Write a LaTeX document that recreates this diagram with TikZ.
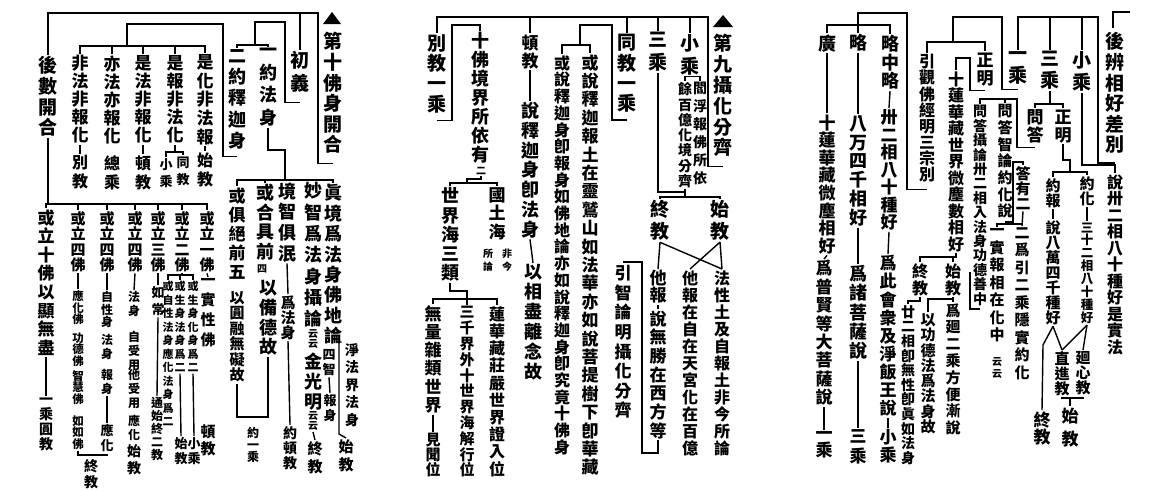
\documentclass[tikz,border=0pt]{standalone}
\usepackage{fontspec}
\setmainfont{Noto Sans CJK TC}
\XeTeXlinebreaklocale "zh"
\XeTeXlinebreakskip=0pt plus 1pt
\begin{document}
\begin{tikzpicture}[x=1pt,y=-1pt,line width=1.4pt,
  col/.style 2 args={anchor=north,inner sep=0pt,outer sep=1.5pt,text width=#1pt+2pt,align=center,font=\bfseries\fontsize{#1}{#2}\selectfont}]
\useasboundingbox (0,0) rectangle (1174,490);
\fill (323,24) -- (332,12) -- (341,24) -- cycle;
\node[col={19}{20.6}] (t10) at (333,31) {第十佛身開合};
\node[col={19}{20.7}] (hs) at (48,55) {後數開合};
\node[col={19}{23}] (cy) at (300,50) {初義};
\node[col={18}{21.2}] (er) at (237,48) {二約釋迦身};
\node[col={18}{22.5}] (yi) at (268,47) {一約法身};
\coordinate (top10) at (318,13);
\draw (hs.north) |- (top10) |- ([yshift=-8pt]t10.south);
\draw (cy.north) -- (cy.north |- top10);
\draw ([yshift=-8pt]cy.south) -| (285,22) -| (255,45) coordinate (b10a);
\draw (er.north) |- (b10a) -| (yi.north);
\node[col={17}{18}] (fa1) at (80,54) {非法非報化};
\node[col={17}{18}] (fa2) at (112,54) {亦法亦報化};
\node[col={17}{18}] (fa3) at (143,54) {是法非報化};
\node[col={17}{18}] (fa4) at (175,54) {是報非法化};
\node[col={17}{18.7}] (fa5) at (205,53) {是化非法報};
\draw ([yshift=-6pt]er.south) -| (223,24) -| (127,46) coordinate (b10b);
\draw (fa1.north) |- (b10b) -| (fa5.north);
\foreach \n in {fa2,fa3,fa4} \draw (\n.north) -- (\n.north |- b10b);
\node[col={16}{19}] (fb1) at (80,154) {別教};
\node[col={16}{19}] (fb2) at (112,154) {總乘};
\node[col={16}{19}] (fb3) at (143,154) {頓教};
\node[col={13}{17}] (fb4a) at (166,157) {小乘};
\node[col={13}{17}] (fb4b) at (183,155) {同教};
\node[col={16}{19}] (fb5) at (205,151) {始教};
\draw (fa1.south) -- (fb1.north);
\draw (fa3.south) -- (fb3.north);
\draw (fa5.south) -- (fb5.north);
\draw (fa4.south) -- (175,152) coordinate (b10e);
\draw (fb4a.north) |- (b10e) -| (fb4b.north);
\draw (yi.south) |- (285,150) -- (285,180) coordinate (b10c);
\node[col={18}{20.4}] (g1) at (333,183) {眞境爲法身佛地論};
\node[col={14}{17.5}] (g1a) at (352,342) {淨法界法身};
\node[col={13}{15}] (g1b) at (329,348) {四智};
\node[col={13}{15}] (g1c) at (330,393) {報身};
\node[col={15}{18}] (g1d) at (346,438) {始教};
\draw (g1b.south) -- (g1c.north);
\draw ([xshift=-1pt]g1a.north west) -| (339,434) -- (g1d.north);
\node[col={18}{21.3}] (g2) at (313,181) {妙智爲法身攝論};
\node[col={10}{10}] (g2b) at (313,328) {云云};
\node[col={18}{20}] (g2c) at (313,351) {金光明};
\node[col={10}{10}] (g2d) at (313,410) {云云};
\node[col={15}{18}] (g2e) at (315,440) {終教};
\draw (g2d.south) -- (g2e.north);
\node[col={18}{20.7}] (g3) at (287,181) {境智俱泯};
\node[col={15}{15}] (g3b) at (288,294) {爲法身};
\node[col={14}{15}] (g3c) at (290,425) {約頓教};
\draw (g3.south) -- (g3b.north);
\draw (g3b.south) -- (g3c.north);
\node[col={18}{19.5}] (g4) at (265,183) {或合具前};
\node[col={10}{10}] (g4b) at (262,263) {四};
\node[col={18}{19.7}] (g4c) at (268,279) {以備德故};
\node[col={17}{19}] (g5) at (237,186) {或俱絕前五};
\node[col={15}{15.5}] (g5b) at (237,290) {以圓融無礙故};
\draw (g5b.south) |- (255,417) coordinate (b10f) -| (g4c.south);
\node[col={12}{12}] (g45) at (253,426) {約一乘};
\draw (g1.north) |- (b10c) -| (g5.north);
\foreach \n in {g2,g3,g4} \draw (\n.north) -- (\n.north |- b10c);
\node[col={17}{18.6}] (h1) at (46,208) {或立十佛以顯無盡};
\node[col={14}{15}] (h1b) at (46,396) {一乘圓教};
\draw (h1.south) -- (h1b.north);
\node[col={15}{15.3}] (h2) at (78,210) {或立四佛};
\node[col={11.5}{11.5}] (h2b) at (78,289) {應化佛};
\node[col={11.5}{11.5}] (h2c) at (78,331) {功德佛};
\node[col={11.5}{11.5}] (h2d) at (78,369) {智慧佛};
\node[col={11.5}{11.5}] (h2e) at (78,414) {如如佛};
\draw (h2.south) -- (h2b.north);
\node[col={15}{15.3}] (h3) at (107,210) {或立四佛};
\node[col={12}{12.5}] (h3b) at (107,290) {自性身};
\node[col={12}{14}] (h3c) at (107,333) {法身};
\node[col={12}{14}] (h3d) at (107,368) {報身};
\node[col={13}{15}] (h3e) at (107,423) {應化};
\draw (h3.south) -- (h3b.north);
\draw (h3d.south) -- (h3e.north);
\node[col={14}{16}] (h23) at (91,458) {終教};
\draw (h2e.south) |- ([yshift=3pt]h23.north) -| (h3e.south);
\node[col={15}{15.3}] (h4) at (135,210) {或立四佛};
\node[col={12}{14}] (h4b) at (134,290) {法身};
\node[col={12}{14}] (h4c) at (134,330) {自受用};
\node[col={12}{14}] (h4d) at (134,368) {他受用};
\node[col={12}{14}] (h4e) at (134,414) {應化};
\node[col={14}{17}] (h4f) at (134,443) {始教};
\draw (h4.south) -- (h4b.north);
\node[col={15}{15.3}] (h5) at (158,210) {或立三佛};
\node[col={13}{17}] (h5b) at (158,285) {如常};
\node[col={12}{13}] (h5c) at (157,396) {通始終二教};
\draw (h5.south) -- (h5b.north);
\draw (h5b.south) -- (h5c.north);
\node[col={15}{15.3}] (h6) at (182,210) {或立二佛};
\node[col={11}{13.5}] (h6a) at (168,280) {或自性法身應化法身爲二};
\node[col={11}{13.5}] (h6b) at (180,280) {或生身法身爲二};
\node[col={11}{13.5}] (h6c) at (193,280) {或生身化身爲二};
\node[col={13}{15}] (h6d) at (181,436) {始教};
\node[col={13}{15}] (h6e) at (194,436) {小乘};
\draw (h6b.south) -- (h6d.north);
\draw (h6c.south) -- (h6e.north);
\draw (h6.south) -- (182,275) coordinate (b10g);
\draw (h6a.north) |- (b10g) -| (h6c.north);
\draw (h6b.north) -- (h6b.north |- b10g);
\node[col={15}{15.3}] (h7) at (207,210) {或立一佛};
\node[col={15}{20}] (h7b) at (208,277) {一實性佛};
\node[col={15}{17}] (h7c) at (208,423) {頓教};
\draw (h7.south) -- (h7b.north);
\draw (hs.south) |- (137,204) coordinate (b10d);
\draw (h1.north) |- (b10d) -| (h7.north);
\foreach \n in {h2,h3,h4,h5,h6} \draw (\n.north) -- (\n.north |- b10d);
\fill (713,27) -- (723,15) -- (733,27) -- cycle;
\node[col={19}{20.8}] (t9) at (723,33) {第九攝化分齊};
\node[col={19}{20.3}] (bj) at (437,33) {別教一乘};
\node[col={17}{18}] (dj) at (530,33) {頓教};
\node[col={19}{20.3}] (tj) at (627,33) {同教一乘};
\node[col={19}{23}] (sc) at (658,31) {三乘};
\node[col={19}{23}] (xc) at (690,33) {小乘};
\coordinate (top9) at (708,17);
\draw (bj.north) |- (top9) |- ([yshift=-8pt]t9.south);
\foreach \n in {dj,tj,sc,xc} \draw (\n.north) -- (\n.north |- top9);
\node[col={18}{19}] (sf) at (480,31) {十佛境界所依有};
\node[col={10}{10}] (sf2) at (481,166) {二};
\draw ([yshift=-6pt]bj.south) -| (452,25) -| (sf.north);
\node[col={18}{19.3}] (sj) at (450,186) {世界海三類};
\node[col={17}{18.5}] (gt) at (497,186) {國土海};
\node[col={10}{13}] (gtn1) at (507,247) {非今};
\node[col={10}{13}] (gtn2) at (488,248) {所論};
\draw (sf2.south) |- (467,179) -- (467,183) coordinate (b9a);
\draw (sj.north) |- (b9a) -| (gt.north);
\node[col={17}{18.2}] (wl) at (433,304) {無量雜類世界};
\node[col={15}{15}] (wl2) at (433,432) {見聞位};
\draw (wl.south) -- (wl2.north);
\node[col={15}{15.8}] (sq) at (467,305) {三千界外十世界海解行位};
\node[col={16}{17.2}] (lh) at (497,305) {蓮華藏莊嚴世界證入位};
\draw (sj.south) |- (467,291) -- (467,299) coordinate (b9b);
\draw (wl.north) |- (b9b) -| (lh.north);
\draw (sq.north) -- (b9b);
\node[col={18}{19.7}] (dj2) at (530,101) {說釋迦身卽法身};
\node[col={18}{20}] (dj3) at (533,263) {以相盡離念故};
\draw (dj.south) -- (dj2.north);
\draw (dj2.south) -- (dj3.north);
\draw ([yshift=-6pt]tj.south) -| (612,25) -| (580,45) coordinate (b9c);
\node[col={16}{16.7}] (hb) at (562,54) {或說釋迦身卽報身如佛地論亦如說釋迦身卽究竟十佛身};
\node[col={17}{18.4}] (hc) at (590,53) {或說釋迦報土在靈鷲山如法華亦如說菩提樹下卽華藏};
\draw (hb.north) |- (b9c) -| (hc.north);
\node[col={14}{18}] (xn1) at (700,81) {閻浮報佛所依};
\node[col={14}{15.3}] (xn2) at (685,81) {餘百億化境分齊};
\draw (xn2.north) |- (xc.south) -| (xn1.north);
\draw (sc.south) |- (685,192) -- (685,197) coordinate (b9d);
\draw (xn2.south) -- (xn2.south |- b9d);
\node[col={19}{22}] (zj) at (660,199) {終教};
\node[col={19}{22}] (shj) at (720,199) {始教};
\draw (zj.north) |- (b9d) -| (shj.north);
\node[col={17}{17}] (tb) at (658,269) {他報};
\node[col={17}{18.7}] (tb2) at (658,309) {說無勝在西方等};
\draw (tb.south) -- (tb2.north);
\node[col={17}{19.6}] (yz) at (623,264) {引智論明攝化分齊};
\draw ([yshift=2pt]yz.north) -| (642,453) -| (tb2.south);
\node[col={16}{17}] (tz) at (690,269) {他報在自在天宮化在百億};
\node[col={16}{17}] (fx) at (722,269) {法性土及自報土非今所論};
\draw (zj.south) -- (tb.north);
\draw (zj.south) -- (fx.north);
\draw (shj.south) -- (tz.north);
\draw (shj.south) -- (fx.north);
\draw (1130,12) -| (1113,28);
\node[col={19}{20.6}] (t3) at (1115,31) {後辨相好差別};
\node[col={19}{22}] (yc3) at (1018,50) {一乘};
\node[col={19}{22}] (sc3) at (1050,50) {三乘};
\node[col={19}{22}] (xc3) at (1082,50) {小乘};
\coordinate (top3) at (1098,17);
\draw (yc3.north) |- (top3) |- ([yshift=-8pt]t3.south);
\foreach \n in {sc3,xc3} \draw (\n.north) -- (\n.north |- top3);
\node[col={16}{16.5}] (sz) at (1115,173) {說卅二相八十種好是實法};
\draw (xc3.south) |- ([yshift=8pt]sz.north) -- (sz.north);
\node[col={17}{18}] (wd3) at (1035,108) {問答};
\node[col={17}{18}] (zm3) at (1063,108) {正明};
\draw (sc3.south) -- (1050,104) coordinate (b3c);
\draw (wd3.north) |- (b3c) -| (zm3.north);
\node[col={15}{15}] (yb) at (1053,177) {約報};
\node[col={15}{15}] (yh) at (1087,175) {約化};
\draw (zm3.south) |- (1070,160) -- (1070,172) coordinate (b3d);
\draw (yb.north) |- (b3d) -| (yh.north);
\node[col={15}{15}] (yb2) at (1053,219) {說八萬四千種好};
\node[col={12.5}{12.9}] (yh2) at (1087,221) {三十二相八十種好};
\draw (yb.south) -- (yb2.north);
\draw (yh.south) -- (yh2.north);
\node[col={15}{15}] (zj3) at (1062,350) {直進教};
\node[col={15}{15}] (hx) at (1083,350) {廻心教};
\draw (yb2.south) -- (zj3.north);
\draw (yh2.south) -- (zj3.north);
\draw (yh2.south) -- (hx.north);
\node[col={17}{17}] (zj4) at (1042,410) {終教};
\draw (yb2.south) -- (1043,345) -- (zj4.north);
\node[col={17}{23}] (sj4) at (1070,406) {始教};
\draw (zj3.south) |- (1072,398) coordinate (b3e) -| (hx.south);
\draw (sj4.north) -- (sj4.north |- b3e);
\node[col={15}{16.7}] (wda) at (1005,103) {問答智論約化說};
\node[col={14}{14.4}] (wdb) at (980,104) {問答攝論卅二相入法身功德善中};
\draw ([yshift=-3pt]wd3.south) -| (1017,99) coordinate (b3b) -| (wdb.north);
\draw (wda.north) -- (wda.north |- b3b);
\node[col={15}{15}] (dy) at (1023,165) {答有二};
\draw ([yshift=-2pt]wda.south) -| (1013,162) -| (dy.north);
\node[col={15}{17.5}] (dy1) at (997,227) {一實報相在化中};
\node[col={10}{12}] (dy1b) at (997,356) {云云};
\node[col={15}{17.5}] (dy2) at (1022,226) {二爲引二乘隱實約化};
\draw (dy.south) -- (dy2.north);
\draw (dy1.north) |- ([yshift=2pt]dy2.north);
\node[col={17}{18}] (zm1) at (985,51) {正明};
\node[col={16}{16.5}] (sl) at (956,70) {十蓮華藏世界微塵數相好};
\draw ([yshift=-3pt]zm1.south) -| (970,58) -| (sl.north);
\node[col={16}{17}] (zj5) at (920,262) {終教};
\node[col={16}{17}] (sj5) at (953,262) {始教};
\draw (sl.south) |- (953,257) coordinate (b3g);
\draw (zj5.north) |- (b3g) -- (sj5.north);
\node[col={15}{16.8}] (wh) at (953,302) {爲廻二乘方便漸說};
\node[col={15}{15.3}] (yg2) at (928,312) {以功德法爲法身故};
\draw (sj5.south) -- (wh.north);
\draw (yg2.north) |- ([yshift=3pt]wh.north);
\node[col={14}{14.6}] (ns) at (908,304) {廿二相卽無性卽眞如法身};
\draw (zj5.south) |- ([yshift=3pt]ns.north) -- (ns.north);
\draw ([yshift=-2pt]wdb.south) -| (970,272);
\draw ([yshift=-4pt]yc3.south) -| (1002,17) -| (953,42) coordinate (b3a);
\node[col={16}{16.1}] (yg) at (927,53) {引觀佛經明三宗別};
\draw (yg.north) |- (b3a) -| (zm1.north);
\draw ([yshift=-6pt]yg.south) -| (907,13) -| (858,25) coordinate (b3i);
\node[col={18}{18}] (gg) at (827,33) {廣};
\node[col={18}{18}] (lue) at (858,33) {略};
\node[col={18}{18.5}] (lzl) at (890,34) {略中略};
\draw (gg.north) |- (b3i) -| (lzl.north);
\draw (lue.north) -- (b3i);
\node[col={17}{17.5}] (lzl2) at (889,108) {卅二相八十種好};
\node[col={17}{18.1}] (lzl3) at (888,254) {爲此會衆及淨飯王說};
\node[col={17}{16}] (lzl4) at (888,428) {小乘};
\draw (lzl.south) -- (lzl2.north);
\draw (lzl2.south) -- (lzl3.north);
\draw (lzl3.south) -- (lzl4.north);
\node[col={18}{18.8}] (lue2) at (858,114) {八万四千相好};
\node[col={18}{19.3}] (lue3) at (858,264) {爲諸菩薩說};
\node[col={17}{20}] (lue4) at (858,428) {三乘};
\draw (lue.south) -- (lue2.north);
\draw (lue2.south) -- (lue3.north);
\draw (lue3.south) -- (lue4.north);
\node[col={17}{17.6}] (gg2) at (827,113) {十蓮華藏微塵相好};
\node[col={17}{18.4}] (gg3) at (824,259) {爲普賢等大菩薩說};
\node[col={17}{17}] (gg4) at (824,430) {一乘};
\draw (gg.south) -- (gg2.north);
\draw (gg2.south) -- (gg3.north);
\draw (gg3.south) -- (gg4.north);
\end{tikzpicture}
\end{document}
